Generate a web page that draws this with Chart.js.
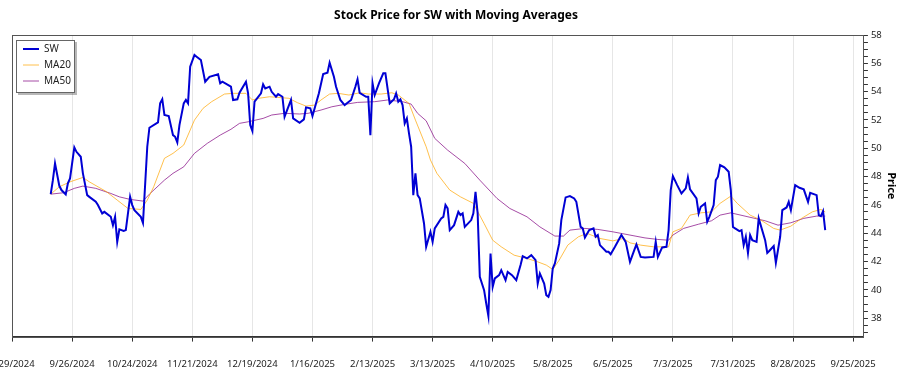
<!DOCTYPE html>
<html>
<head>
<meta charset="utf-8">
<script src="https://cdn.jsdelivr.net/npm/chart.js@4.4.1/dist/chart.umd.min.js"></script>
<style>
html, body { margin: 0; padding: 0; background: #fff; }
#wrap { width: 900px; height: 375px; }
</style>
</head>
<body>
<div id="wrap"><canvas id="chart" width="900" height="375"></canvas></div>
<script>
// Kursdaten SW
const swDates = [
  '2024-09-16','2024-09-17','2024-09-18','2024-09-20','2024-09-21','2024-09-23','2024-09-24','2024-09-25','2024-09-27','2024-09-28',
  '2024-09-30','2024-10-01','2024-10-03','2024-10-04','2024-10-07','2024-10-08','2024-10-10','2024-10-11','2024-10-14','2024-10-15',
  '2024-10-16','2024-10-17','2024-10-18','2024-10-20','2024-10-21','2024-10-23','2024-10-24','2024-10-25','2024-10-28','2024-10-29',
  '2024-10-31','2024-11-01','2024-11-05','2024-11-06','2024-11-07','2024-11-08','2024-11-10','2024-11-12','2024-11-13','2024-11-14',
  '2024-11-15','2024-11-17','2024-11-18','2024-11-19','2024-11-20','2024-11-22','2024-11-23','2024-11-25','2024-11-27','2024-11-29',
  '2024-12-03','2024-12-04','2024-12-05','2024-12-09','2024-12-10','2024-12-12','2024-12-13','2024-12-16','2024-12-17','2024-12-18',
  '2024-12-19','2024-12-20','2024-12-23','2024-12-24','2024-12-25','2024-12-27','2024-12-28','2024-12-30','2024-12-31','2025-01-02',
  '2025-01-03','2025-01-06','2025-01-07','2025-01-10','2025-01-12','2025-01-13','2025-01-15','2025-01-16','2025-01-19','2025-01-21',
  '2025-01-23','2025-01-24','2025-01-26','2025-01-27','2025-01-29','2025-01-31','2025-02-03','2025-02-05','2025-02-06','2025-02-07',
  '2025-02-10','2025-02-11','2025-02-12','2025-02-13','2025-02-14','2025-02-16','2025-02-18','2025-02-19','2025-02-21','2025-02-23',
  '2025-02-24','2025-02-25','2025-02-26','2025-02-27','2025-02-28','2025-03-01','2025-03-02','2025-03-03','2025-03-04','2025-03-05',
  '2025-03-06','2025-03-07','2025-03-09','2025-03-10','2025-03-12','2025-03-13','2025-03-14','2025-03-17','2025-03-18','2025-03-19',
  '2025-03-20','2025-03-21','2025-03-23','2025-03-25','2025-03-26','2025-03-27','2025-03-28','2025-03-31','2025-04-01','2025-04-02',
  '2025-04-03','2025-04-04','2025-04-06','2025-04-07','2025-04-08','2025-04-09','2025-04-10','2025-04-11','2025-04-13','2025-04-14',
  '2025-04-16','2025-04-17','2025-04-19','2025-04-21','2025-04-23','2025-04-24','2025-04-26','2025-04-28','2025-04-30','2025-05-01',
  '2025-05-02','2025-05-04','2025-05-05','2025-05-06','2025-05-07','2025-05-08','2025-05-09','2025-05-11','2025-05-12','2025-05-14',
  '2025-05-16','2025-05-18','2025-05-19','2025-05-21','2025-05-22','2025-05-23','2025-05-25','2025-05-27','2025-05-28','2025-05-29',
  '2025-05-30','2025-06-02','2025-06-03','2025-06-04','2025-06-06','2025-06-09','2025-06-11','2025-06-13','2025-06-15','2025-06-16',
  '2025-06-18','2025-06-20','2025-06-24','2025-06-25','2025-06-26','2025-06-28','2025-06-30','2025-07-01','2025-07-02','2025-07-03',
  '2025-07-05','2025-07-07','2025-07-09','2025-07-10','2025-07-11','2025-07-14','2025-07-15','2025-07-16','2025-07-18','2025-07-19',
  '2025-07-20','2025-07-22','2025-07-23','2025-07-24','2025-07-25','2025-07-27','2025-07-29','2025-07-30','2025-07-31','2025-08-01',
  '2025-08-03','2025-08-04','2025-08-05','2025-08-06','2025-08-07','2025-08-08','2025-08-09','2025-08-11','2025-08-12','2025-08-15',
  '2025-08-16','2025-08-17','2025-08-19','2025-08-20','2025-08-22','2025-08-23','2025-08-25','2025-08-26','2025-08-27','2025-08-29',
  '2025-08-31','2025-09-02','2025-09-04','2025-09-05','2025-09-08','2025-09-09','2025-09-10','2025-09-11','2025-09-12'
];
const swValues = [
  46.76,47.75,48.93,47.35,47.05,46.74,47.52,47.87,50.06,49.75,
  49.40,48.23,46.69,46.57,46.22,45.99,45.40,45.51,45.16,44.57,
  45.16,43.39,44.27,44.17,44.22,46.57,45.99,45.63,45.16,44.73,
  50.11,51.45,51.83,53.17,53.46,52.35,52.28,50.93,50.81,50.42,
  51.64,53.17,53.41,53.17,55.76,56.59,56.47,56.23,54.70,55.05,
  55.22,54.59,54.70,54.35,53.41,53.46,53.92,54.70,53.88,51.64,
  51.22,53.29,53.88,54.52,54.23,54.35,53.99,53.64,53.83,53.64,
  52.23,53.41,52.11,51.80,52.04,52.89,52.82,52.28,53.88,55.24,
  55.34,56.04,55.05,54.35,53.41,53.05,53.41,54.35,54.87,53.92,
  53.64,53.64,50.93,54.59,53.76,54.59,55.29,55.29,53.17,53.46,
  53.88,53.29,53.46,53.05,51.76,52.11,51.05,50.11,46.69,48.23,
  46.69,46.46,44.69,43.04,44.10,43.39,44.34,45.05,45.16,45.99,
  45.75,44.22,44.57,45.51,45.28,45.40,44.45,44.93,45.40,46.93,
  45.40,40.92,39.98,39.04,38.16,42.57,40.21,40.81,41.04,41.39,
  40.69,41.27,41.04,40.69,41.75,42.38,42.22,42.45,42.10,40.45,
  41.16,40.45,39.63,39.51,39.98,41.51,41.87,43.28,44.93,46.53,
  46.62,46.46,46.22,44.45,44.34,43.70,44.22,44.34,43.75,43.87,
  43.16,42.69,42.69,42.52,43.04,43.87,43.39,41.98,42.81,43.21,
  42.33,42.29,42.33,43.39,42.33,43.00,43.04,44.22,47.05,48.04,
  47.40,46.81,47.17,47.94,47.10,46.46,45.40,45.87,46.11,44.81,
  45.16,45.99,47.75,47.99,48.81,48.65,48.34,47.05,44.45,44.34,
  44.15,44.22,43.16,43.75,42.61,43.87,43.51,43.39,45.05,43.51,
  42.61,42.76,43.09,41.91,43.75,45.63,45.82,46.22,45.63,47.40,
  47.21,47.10,46.22,46.86,46.69,45.28,45.21,45.56,44.22
];

const ma20Dates = [
  '2024-09-16','2024-09-20','2024-09-25','2024-10-01','2024-10-04','2024-10-12','2024-10-17','2024-10-22','2024-10-28','2024-10-31',
  '2024-11-03','2024-11-08','2024-11-12','2024-11-17','2024-11-22','2024-11-26','2024-11-30','2024-12-06','2024-12-10','2024-12-16',
  '2024-12-19','2024-12-22','2024-12-27','2025-01-05','2025-01-09','2025-01-13','2025-01-17','2025-01-20','2025-01-24','2025-01-28',
  '2025-02-02','2025-02-07','2025-02-11','2025-02-17','2025-02-22','2025-02-25','2025-03-02','2025-03-05','2025-03-10','2025-03-12',
  '2025-03-15','2025-03-21','2025-03-26','2025-04-01','2025-04-06','2025-04-10','2025-04-14','2025-04-20','2025-04-26','2025-05-01',
  '2025-05-05','2025-05-08','2025-05-11','2025-05-15','2025-05-20','2025-05-24','2025-05-30','2025-06-05','2025-06-10','2025-06-13',
  '2025-06-18','2025-06-24','2025-07-01','2025-07-03','2025-07-07','2025-07-11','2025-07-16','2025-07-21','2025-07-25','2025-07-30',
  '2025-08-02','2025-08-08','2025-08-13','2025-08-19','2025-08-22','2025-08-27','2025-09-01','2025-09-06','2025-09-10','2025-09-12'
];
const ma20Values = [
  46.76,47.28,47.63,47.94,47.63,46.93,46.34,45.75,45.68,46.34,
  47.28,49.29,49.64,50.23,51.99,52.82,53.29,53.83,53.88,53.88,
  53.41,53.53,53.64,53.53,53.22,52.98,53.05,53.41,53.83,53.88,
  53.76,53.92,53.83,53.83,53.92,53.76,53.17,51.99,50.11,49.17,
  48.23,47.05,46.57,46.11,44.69,43.51,43.04,42.45,42.22,41.98,
  41.75,41.44,42.10,43.16,43.75,43.99,43.63,43.46,43.63,43.32,
  43.16,43.04,43.04,44.10,44.34,45.28,45.44,45.51,46.11,46.62,
  46.11,45.28,44.93,44.34,44.22,44.50,45.05,45.51,45.68,45.51
];

const ma50Dates = [
  '2024-09-16','2024-09-22','2024-09-27','2024-10-01','2024-10-07','2024-10-14','2024-10-18','2024-10-23','2024-10-29','2024-11-01',
  '2024-11-08','2024-11-12','2024-11-17','2024-11-22','2024-11-28','2024-12-04','2024-12-09','2024-12-13','2024-12-17','2024-12-24',
  '2024-12-28','2025-01-03','2025-01-10','2025-01-14','2025-01-20','2025-01-25','2025-01-31','2025-02-06','2025-02-14','2025-02-20',
  '2025-02-27','2025-03-03','2025-03-06','2025-03-10','2025-03-14','2025-03-20','2025-03-28','2025-04-04','2025-04-12','2025-04-18',
  '2025-04-26','2025-05-02','2025-05-09','2025-05-13','2025-05-16','2025-05-23','2025-05-29','2025-06-05','2025-06-13','2025-06-20',
  '2025-06-26','2025-07-01','2025-07-03','2025-07-08','2025-07-15','2025-07-21','2025-07-25','2025-07-30','2025-08-07','2025-08-15',
  '2025-08-21','2025-08-27','2025-09-02','2025-09-08','2025-09-12'
];
const ma50Values = [
  46.76,46.86,47.17,47.33,47.17,46.81,46.57,46.39,46.27,46.76,
  47.75,48.23,48.69,49.64,50.35,50.93,51.34,51.76,51.87,52.11,
  52.35,52.47,52.42,52.47,52.70,52.93,53.10,53.24,53.29,53.41,
  53.29,53.12,52.47,51.94,50.70,49.87,48.93,47.75,46.46,45.75,
  45.16,44.45,43.80,43.80,44.22,44.34,44.27,44.10,43.87,43.67,
  43.56,43.51,43.87,44.34,44.64,44.88,45.28,45.44,45.16,44.88,
  44.57,44.74,45.05,45.21,45.21
];

const xTickDates = ['2024-08-29','2024-09-26','2024-10-24','2024-11-21','2024-12-19','2025-01-16','2025-02-13',
  '2025-03-13','2025-04-10','2025-05-08','2025-06-05','2025-07-03','2025-07-31','2025-08-28','2025-09-25'];
const yTickValues = [38, 40, 42, 44, 46, 48, 50, 52, 54, 56, 58];

const fontFamily = "'Noto Sans', 'Open Sans', sans-serif";

function dayNum(s) {
    var p = s.split('-');
    return Date.UTC(+p[0], +p[1] - 1, +p[2]) / 86400000;
}
function fmtDay(d) {
    var dt = new Date(Math.round(d) * 86400000);
    return (dt.getUTCMonth() + 1) + '/' + dt.getUTCDate() + '/' + dt.getUTCFullYear();
}
function toPoints(dates, values) {
    return dates.map(function (d, i) { return { x: dayNum(d), y: values[i] }; });
}

var firstDay = dayNum(swDates[0]);
var lastDay = dayNum(swDates[swDates.length - 1]);
var xPad = (lastDay - firstDay) * 0.05;

// Rahmen um Plotfläche und Legendenkasten mit Schatten
var framePlugin = {
    id: 'frame',
    afterLayout: function (chart) {
        var lg = chart.legend, ca = chart.chartArea;
        lg.left = ca.left + 5;
        lg.top = ca.top + 3;
        lg.right = lg.left + lg.width;
        lg.bottom = lg.top + lg.height;
    },
    afterDraw: function (chart) {
        var ctx = chart.ctx, ca = chart.chartArea, lg = chart.legend;
        ctx.save();
        ctx.lineWidth = 1;
        ctx.strokeStyle = '#555';
        ctx.strokeRect(Math.round(ca.left) + 0.5, Math.round(ca.top) + 0.5,
            Math.round(ca.right - ca.left) - 1, Math.round(ca.bottom - ca.top));
        var hb = lg.legendHitBoxes;
        if (hb && hb.length) {
            var x0 = Math.round(hb[0].left - 7), y0 = Math.round(hb[0].top - 4);
            var x1 = Math.round(Math.max.apply(null, hb.map(function (h) { return h.left + h.width; })) + 3);
            var last = hb[hb.length - 1];
            var y1 = Math.round(last.top + last.height + 6);
            ctx.fillStyle = 'rgba(0,0,0,0.28)';
            ctx.fillRect(x0 + 2, y0 + 2, x1 - x0 + 1, y1 - y0 + 1);
            ctx.fillStyle = '#fff';
            ctx.fillRect(x0, y0, x1 - x0, y1 - y0);
            ctx.strokeStyle = '#666';
            ctx.strokeRect(x0 + 0.5, y0 + 0.5, x1 - x0, y1 - y0);
        }
        ctx.restore();
        lg.draw();
    }
};

var ctx = document.getElementById('chart').getContext('2d');
new Chart(ctx, {
    type: 'line',
    data: {
        datasets: [
            { label: 'SW', data: toPoints(swDates, swValues), borderColor: '#0000d4', borderWidth: 2, pointRadius: 0, tension: 0, fill: false },
            { label: 'MA20', data: toPoints(ma20Dates, ma20Values), borderColor: 'rgba(255,165,0,0.7)', borderWidth: 1, pointRadius: 0, tension: 0, fill: false },
            { label: 'MA50', data: toPoints(ma50Dates, ma50Values), borderColor: 'rgba(128,0,128,0.7)', borderWidth: 1, pointRadius: 0, tension: 0, fill: false }
        ]
    },
    options: {
        responsive: false,
        animation: false,
        layout: { padding: { left: 12, right: 0, top: 0, bottom: -12 } },
        plugins: {
            title: {
                display: true,
                text: 'Stock Price for SW with Moving Averages',
                color: '#000',
                font: { family: fontFamily, size: 12, weight: 'bold' },
                padding: { top: 8, bottom: 12.6 }
            },
            legend: {
                position: 'chartArea',
                align: 'start',
                labels: {
                    usePointStyle: true,
                    pointStyle: 'line',
                    pointStyleWidth: 16,
                    padding: 6,
                    color: '#222',
                    font: { family: fontFamily, size: 10 }
                }
            },
            tooltip: { enabled: false }
        },
        scales: {
            x: {
                type: 'linear',
                min: firstDay - xPad,
                max: lastDay + xPad,
                afterBuildTicks: function (scale) {
                    scale.ticks = xTickDates.map(function (d) { return { value: dayNum(d) }; });
                },
                afterFit: function (scale) {
                    scale.paddingLeft = 0;
                    scale.paddingRight = 0;
                },
                ticks: {
                    callback: function (v) { return fmtDay(v); },
                    autoSkip: false,
                    maxRotation: 0,
                    padding: 17,
                    color: '#222',
                    font: { family: fontFamily, size: 9.5 }
                },
                grid: { color: '#e6e6e6', tickColor: '#333', tickLength: 5 },
                border: { color: '#333' }
            },
            y: {
                position: 'right',
                min: 36.7,
                max: 58,
                afterBuildTicks: function (scale) {
                    var t = [];
                    for (var v = yTickValues[0] - 1; v <= yTickValues[yTickValues.length - 1]; v += 0.5) {
                        t.push({ value: v });
                    }
                    scale.ticks = t;
                },
                ticks: {
                    callback: function (v) { return yTickValues.indexOf(v) >= 0 ? String(v) : ''; },
                    autoSkip: false,
                    padding: 3,
                    color: '#222',
                    font: { family: fontFamily, size: 9.5 }
                },
                grid: { drawOnChartArea: false, tickColor: '#333', tickLength: 4 },
                border: { color: '#333' },
                title: {
                    display: true,
                    text: 'Price',
                    color: '#000',
                    font: { family: fontFamily, size: 11, weight: 'bold' },
                    padding: { top: 2, bottom: 0 }
                }
            }
        }
    },
    plugins: [framePlugin]
});
</script>
</body>
</html>
